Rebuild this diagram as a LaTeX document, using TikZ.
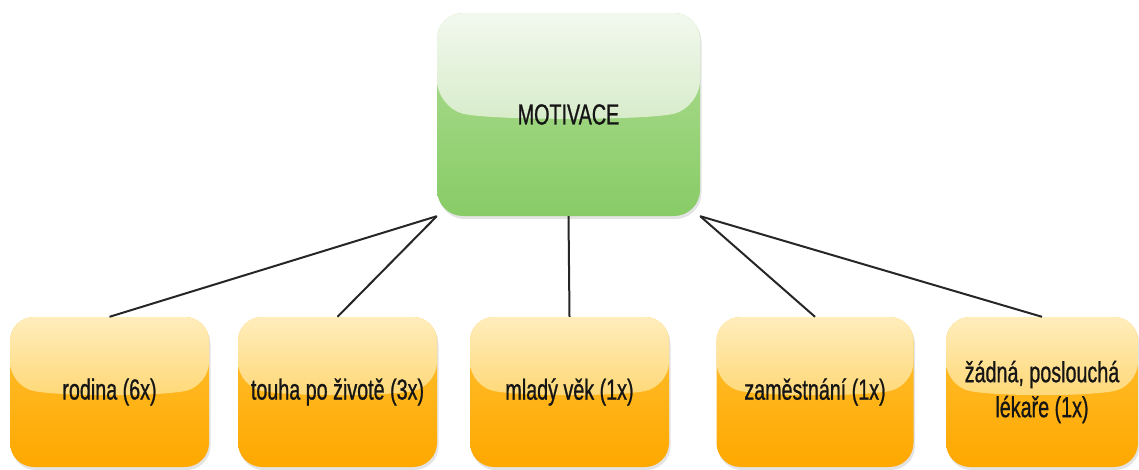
\documentclass[tikz,border=0pt]{standalone}
\usepackage{fontspec}
\setmainfont[FakeStretch=0.68,FakeBold=0.8]{Liberation Sans}
\usetikzlibrary{calc,shadows}

\definecolor{txt}{HTML}{151515}
\definecolor{link}{HTML}{262626}
% green box
\definecolor{gGlossTop}{HTML}{F2F8EE}
\definecolor{gGlossBot}{HTML}{C0E2AA}
\definecolor{gBaseTop}{HTML}{B0DD95}
\definecolor{gBaseBot}{HTML}{88CC66}
% orange boxes
\definecolor{oGlossTop}{HTML}{FFEDBC}
\definecolor{oGlossBot}{HTML}{FFC63A}
\definecolor{oBaseTop}{HTML}{FFC235}
\definecolor{oBaseBot}{HTML}{FFA800}

\tikzset{
  glossy/.style n args={2}{
    path picture={
      \path[top color=#1, bottom color=#2]
        (path picture bounding box.north west) --
        (path picture bounding box.north east) --
        ($(path picture bounding box.north east)!0.46!(path picture bounding box.south east)$)
        .. controls ($(path picture bounding box.north east)!0.53!(path picture bounding box.south east)+(-50pt,0)$)
        and ($(path picture bounding box.north west)!0.53!(path picture bounding box.south west)+(50pt,0)$) ..
        ($(path picture bounding box.north west)!0.46!(path picture bounding box.south west)$) -- cycle;
    }},
  card/.style={rounded corners=26pt, inner sep=0pt, align=center, text=txt,
    font=\fontsize{29}{35}\selectfont,
    drop shadow={opacity=0.22, shadow xshift=1.5pt, shadow yshift=-3pt}},
  rootbox/.style={card, minimum width=263pt, minimum height=203pt,
    top color=gBaseTop, bottom color=gBaseBot, glossy={gGlossTop}{gGlossBot}},
  leafbox/.style={card, minimum height=150pt, rounded corners=24pt,
    top color=oBaseTop, bottom color=oBaseBot, glossy={oGlossTop}{oGlossBot}},
  link/.style={draw=link, line width=2pt}
}

\begin{document}
\begin{tikzpicture}[x=1pt, y=-1pt]
  \useasboundingbox (0,0) rectangle (1139,469);

  \node[rootbox] (mot) at (568.5,114.5) {MOTIVACE};

  \node[leafbox, minimum width=199pt] (r1) at (109.5,392) {rodina (6x)};
  \node[leafbox, minimum width=199pt] (r2) at (337.5,392) {touha po životě (3x)};
  \node[leafbox, minimum width=199pt] (r3) at (569.5,392) {mladý věk (1x)};
  \node[leafbox, minimum width=197pt] (r4) at (815,392) {zaměstnání (1x)};
  \node[leafbox, minimum width=192pt] (r5) at (1042,392) {žádná, poslouchá\\lékaře (1x)};

  \draw[link] (mot.south west) -- (r1.north);
  \draw[link] (mot.south west) -- (r2.north);
  \draw[link] (mot.south) -- (r3.north);
  \draw[link] (mot.south east) -- (r4.north);
  \draw[link] (mot.south east) -- (r5.north);
\end{tikzpicture}
\end{document}
